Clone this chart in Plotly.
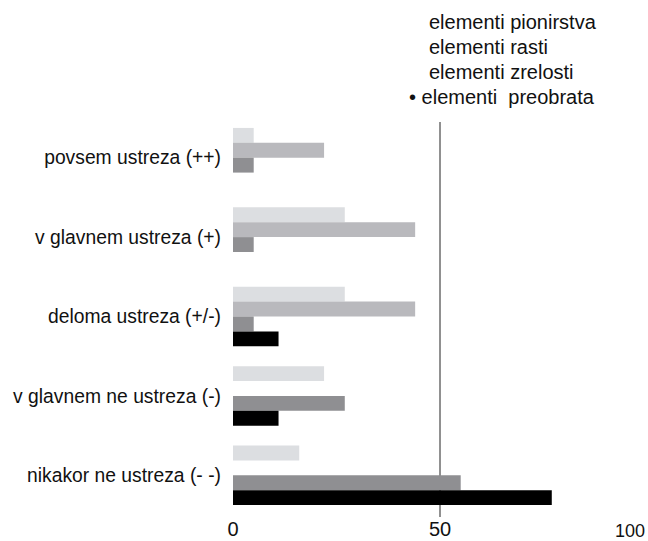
import plotly.graph_objects as go

categories = ["povsem ustreza (++)", "v glavnem ustreza (+)", "deloma ustreza (+/-)",
              "v glavnem ne ustreza (-)", "nikakor ne ustreza (- -)"]
series_names = ["elementi pionirstva", "elementi rasti", "elementi zrelosti", "elementi preobrata"]
pionirstva = [5, 27, 27, 22, 16]
rasti = [22, 44, 44, 0, 0]
zrelosti = [5, 5, 5, 27, 55]
preobrata = [0, 0, 11, 11, 77]
tick_vals = [0, 50]
tick_text = ["0", "50"]

colors = ["#dcdee1", "#b9b9bd", "#8f8f92", "#000000"]
values = [pionirstva, rasti, zrelosti, preobrata]

W, H = 648, 541
L, R, T, B = 233, 1, 118, 26
pw, ph = W - L - R, H - T - B

fig = go.Figure()
for name, vals, col in zip(series_names, values, colors):
    fig.add_trace(go.Bar(y=categories, x=vals, name=name, orientation="h",
                         marker=dict(color=col, line=dict(width=0)), showlegend=False))

fig.update_layout(
    width=W, height=H,
    margin=dict(l=L, r=R, t=T, b=B, autoexpand=False),
    paper_bgcolor="white", plot_bgcolor="white",
    barmode="group", bargap=0.25, bargroupgap=0,
    font=dict(family="Liberation Sans, Arial, sans-serif", size=19, color="#111111"),
    xaxis=dict(range=[0, 100], tickvals=tick_vals, ticktext=tick_text, showgrid=False,
               zeroline=False, showline=False, ticks="", tickfont=dict(size=20),
               automargin=False),
    yaxis=dict(autorange="reversed", showgrid=False, zeroline=False, showline=False,
               ticks="", ticklabelstandoff=11, tickfont=dict(size=19.3), automargin=False),
)

fig.add_shape(type="line", xref="x", yref="paper", x0=50, x1=50, layer="below",
              y0=-(517 - (T + ph)) / ph, y1=1 - (122 - T) / ph,
              line=dict(color="#222222", width=1))

# legend as text
leg_y = [22, 47, 72, 97]
for i, (name, yy) in enumerate(zip(series_names, leg_y)):
    if i < 3:
        txt, x0 = name, 427
    else:
        txt, x0 = "\u2022 elementi\u00a0\u00a0preobrata", 407
    fig.add_annotation(text=txt, xref="paper", yref="paper",
                       x=(x0 - L) / pw, y=1 - (yy - T) / ph,
                       xanchor="left", yanchor="middle", showarrow=False,
                       font=dict(size=20))

fig.add_annotation(text="100", xref="paper", yref="paper",
                   x=(647 - L) / pw, y=1 - (531 - T) / ph,
                   xanchor="right", yanchor="middle", showarrow=False,
                   font=dict(size=18))

fig.write_html("out.html", config={"displayModeBar": False},
               post_script="document.body.style.margin='0';document.body.style.padding='0';")
